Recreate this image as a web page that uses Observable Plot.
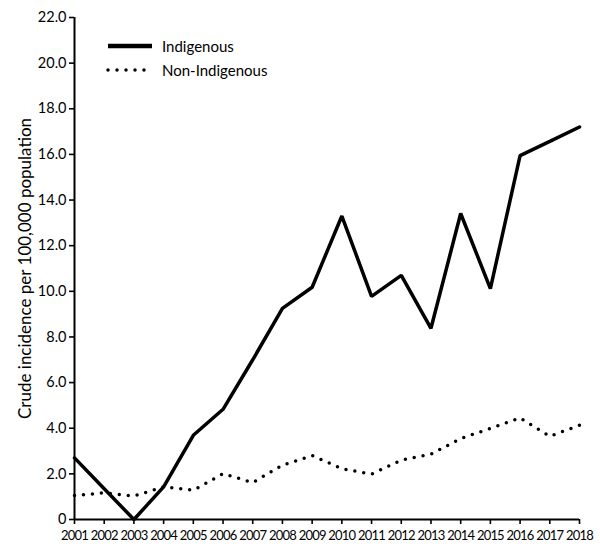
<!DOCTYPE html>
<html>
<head>
<meta charset="utf-8">
<script src="https://cdn.jsdelivr.net/npm/d3@7"></script>
<script src="https://cdn.jsdelivr.net/npm/@observablehq/plot@0.6"></script>
<style>
  body { margin: 0; background: #fff; }
  #wrap { position: relative; width: 600px; height: 550px; font-family: Lato, "Open Sans", sans-serif; }
  #legend { position: absolute; left: 106px; top: 34px; font-size: 15px; color: #000; }
  #legend .row { display: flex; align-items: center; height: 24px; }
  #legend svg { margin-right: 8px; }
  g[aria-label="x-axis tick label"] text { letter-spacing: -0.8px; }
</style>
</head>
<body>
<div id="wrap">
  <div id="chart"></div>
  <div id="legend"></div>
</div>
<script>
const years = [2001,2002,2003,2004,2005,2006,2007,2008,2009,2010,2011,2012,2013,2014,2015,2016,2017,2018];
const indigenous = [2.70,1.35,0.0,1.43,3.69,4.83,7.0,9.25,10.18,13.3,9.78,10.7,8.38,13.41,10.12,15.95,16.57,17.2];
const nonIndigenous = [1.05,1.17,1.03,1.43,1.28,2.01,1.62,2.38,2.80,2.23,1.99,2.6,2.86,3.55,3.99,4.45,3.65,4.13];
const seriesNames = ["Indigenous", "Non-Indigenous"];
const yTicks = [0,2,4,6,8,10,12,14,16,18,20,22];
const yLabel = "Crude incidence per 100,000 population";

const rows = [];
years.forEach((yr, i) => {
  rows.push({year: yr, value: indigenous[i], series: seriesNames[0]});
  rows.push({year: yr, value: nonIndigenous[i], series: seriesNames[1]});
});

const chart = Plot.plot({
  width: 600,
  height: 550,
  marginLeft: 74,
  marginRight: 21,
  marginTop: 17,
  marginBottom: 31,
  style: {fontFamily: "Lato, 'Open Sans', sans-serif", fontSize: "14px", color: "#000", background: "#fff"},
  x: {domain: [2001, 2018], label: null},
  y: {domain: [0, 22], label: null},
  marks: [
    Plot.axisX({ticks: years, tickFormat: d => String(d), tickSize: 5, tickPadding: 6, fontSize: 13, label: null, strokeWidth: 1.6}),
    Plot.axisY({ticks: yTicks, tickFormat: d => d === 0 ? "0" : d.toFixed(1), tickSize: 5, tickPadding: 3, fontSize: 14.5, label: null, strokeWidth: 1.6}),
    Plot.ruleX([2001], {stroke: "#000", strokeWidth: 2}),
    Plot.ruleY([0], {stroke: "#000", strokeWidth: 2}),
    Plot.line(rows.filter(d => d.series === seriesNames[1]), {x: "year", y: "value", stroke: "#000", strokeWidth: 3.5, strokeDasharray: "0 9", strokeLinecap: "round"}),
    Plot.line(rows.filter(d => d.series === seriesNames[0]), {x: "year", y: "value", stroke: "#000", strokeWidth: 3.5, strokeLinejoin: "miter"}),
    Plot.text([yLabel], {frameAnchor: "left", dx: -49, rotate: -90, fontSize: 17, fill: "#000", textAnchor: "middle"})
  ]
});
document.getElementById("chart").appendChild(chart);

const legend = document.getElementById("legend");
const styles = [
  {dash: null},
  {dash: "0 9"}
];
seriesNames.forEach((name, i) => {
  const row = document.createElement("div");
  row.className = "row";
  const dash = styles[i].dash ? `stroke-dasharray="${styles[i].dash}" stroke-linecap="round"` : "";
  row.innerHTML = `<svg width="48" height="10"><line x1="2" x2="46" y1="5" y2="5" stroke="#000" stroke-width="${i === 0 ? 4.5 : 3.5}" ${dash}/></svg><span>${name}</span>`;
  legend.appendChild(row);
});
</script>
</body>
</html>
